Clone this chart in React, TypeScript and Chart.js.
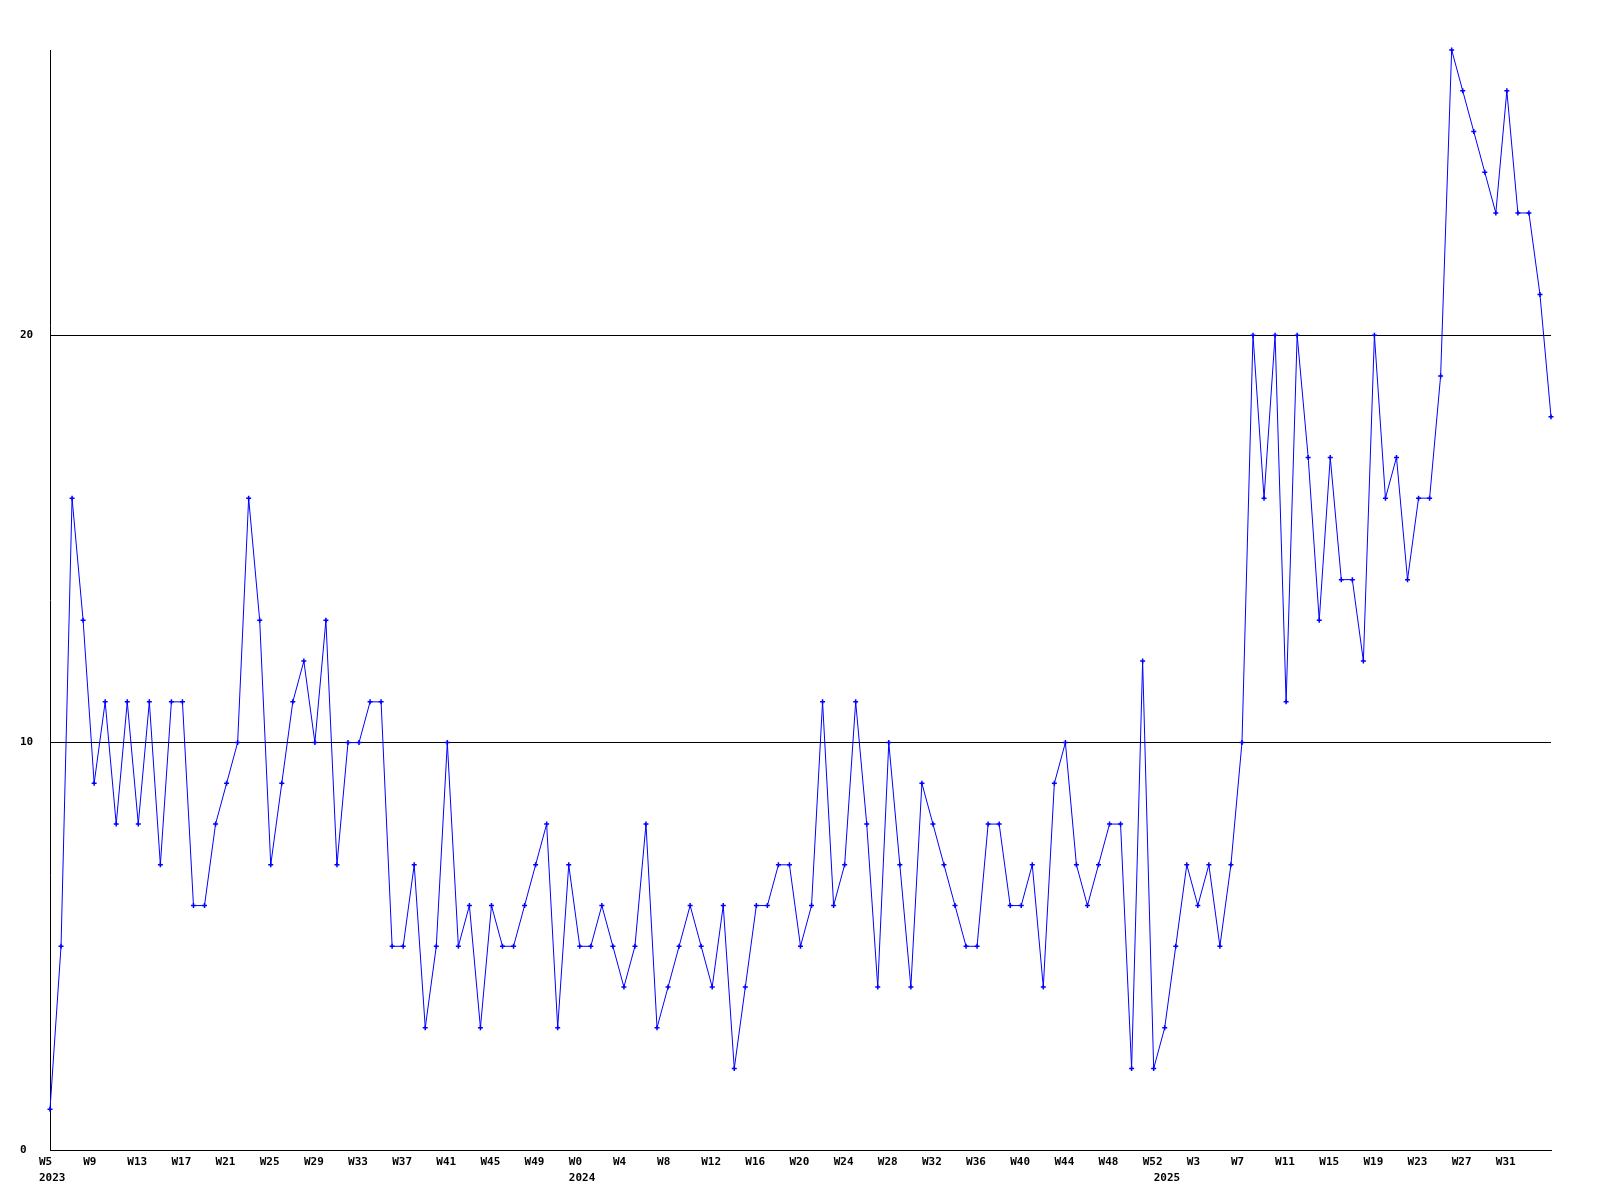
import { useEffect, useRef } from 'react';
import { Chart, registerables } from 'chart.js';

Chart.register(...registerables);

// Weekly counts, one array per year (week numbers start at FIRST_WEEK)
const YEARS = [2023, 2024, 2025];
const FIRST_WEEK = [5, 0, 0];

const COUNTS_2023 = [
  1, 5, 16, 13, 9, 11, 8, 11, 8, 11,
  7, 11, 11, 6, 6, 8, 9, 10, 16, 13,
  7, 9, 11, 12, 10, 13, 7, 10, 10, 11,
  11, 5, 5, 7, 3, 5, 10, 5, 6, 3,
  6, 5, 5, 6, 7, 8, 3, 7,
];
const COUNTS_2024 = [
  5, 5, 6, 5, 4, 5, 8, 3, 4, 5,
  6, 5, 4, 6, 2, 4, 6, 6, 7, 7,
  5, 6, 11, 6, 7, 11, 8, 4, 10, 7,
  4, 9, 8, 7, 6, 5, 5, 8, 8, 6,
  6, 7, 4, 9, 10, 7, 6, 7, 8, 8,
  2, 12, 2,
];
const COUNTS_2025 = [
  3, 5, 7, 6, 7, 5, 7, 10, 20, 16,
  20, 11, 20, 17, 13, 17, 14, 14, 12, 20,
  16, 17, 14, 16, 16, 19, 27, 26, 25, 24,
  23, 26, 23, 23, 21, 18,
];

const Y_TICKS = [0, 10, 20];
const Y_MIN = 0;
const Y_MAX = 27;
const LABEL_EVERY = 4;

const FONT = { family: '"DejaVu Sans Mono", "Liberation Mono", monospace', size: 11, weight: 'bold' as const, lineHeight: '16px' };

export default function App() {
  const ref = useRef<HTMLCanvasElement>(null);

  useEffect(() => {
    if (!ref.current) return;
    const series = [COUNTS_2023, COUNTS_2024, COUNTS_2025];
    const labels: string[] = [];
    const weekNo: number[] = [];
    const yearAt: Record<number, number> = {};
    const values: number[] = [];
    series.forEach((arr, k) => {
      yearAt[labels.length] = YEARS[k];
      arr.forEach((v, j) => {
        const w = FIRST_WEEK[k] + j;
        labels.push(`W${w} ${YEARS[k]}`);
        weekNo.push(w);
        values.push(v);
      });
    });
    const total = labels.length;

    const chart = new Chart(ref.current, {
      type: 'line',
      data: {
        labels,
        datasets: [
          {
            data: values,
            borderColor: '#0000ff',
            backgroundColor: '#0000ff',
            borderWidth: 1,
            pointStyle: 'cross',
            pointRadius: 2.5,
            pointBorderWidth: 1.5,
            pointBorderColor: '#0000ff',
            pointBackgroundColor: '#0000ff',
            tension: 0,
            fill: false,
            clip: false,
          },
        ],
      },
      options: {
        responsive: false,
        animation: false,
        maintainAspectRatio: false,
        layout: { padding: { left: 20, top: 50, right: 49, bottom: 0 } },
        plugins: {
          legend: { display: false },
          tooltip: { enabled: false },
          title: { display: false },
        },
        scales: {
          x: {
            type: 'category',
            offset: false,
            grid: { display: false, drawTicks: false },
            border: { display: true, color: '#000000', width: 1 },
            afterFit: (scale: any) => {
              scale.height = 50;
            },
            ticks: {
              autoSkip: false,
              maxRotation: 0,
              minRotation: 0,
              align: 'start',
              labelOffset: -11,
              padding: 4,
              color: '#000000',
              font: FONT,
              callback: (_v: any, i: number) => {
                const showWeek = i % LABEL_EVERY === 0 && i < total - 1;
                const yr = yearAt[i];
                const top = showWeek ? `W${weekNo[i]}` : '';
                if (yr !== undefined) return [top, String(yr)];
                return top;
              },
            },
          },
          y: {
            type: 'linear',
            min: Y_MIN,
            max: Y_MAX,
            afterBuildTicks: (scale: any) => {
              scale.ticks = Y_TICKS.map((v) => ({ value: v }));
            },
            afterFit: (scale: any) => {
              scale.width = 30;
            },
            grid: { display: true, color: '#000000', lineWidth: 1, drawTicks: false },
            border: { display: true, color: '#000000', width: 1 },
            ticks: {
              crossAlign: 'far',
              padding: 4,
              color: '#000000',
              font: FONT,
            },
          },
        },
      },
    });
    return () => chart.destroy();
  }, []);

  return (
    <div style={{ position: 'fixed', left: 0, top: 0, width: 1600, height: 1200, background: '#ffffff' }}>
      <canvas ref={ref} width={1600} height={1200} style={{ display: 'block', width: 1600, height: 1200 }} />
    </div>
  );
}
